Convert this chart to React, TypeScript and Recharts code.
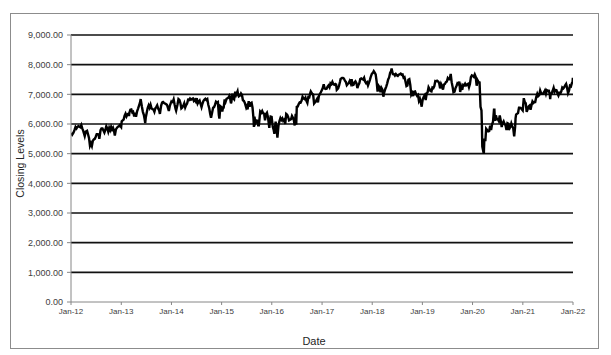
import React from "react";
import { LineChart, Line, XAxis, YAxis, CartesianGrid } from "recharts";

type P = [string, number];

const y2012: P[] = [["01-03",5700],["01-10",5640],["01-18",5700],["01-26",5790],["02-03",5900],["02-10",5850],["02-17",5900],["02-24",5930],["03-02",5910],["03-09",5890],["03-16",5965],["03-23",5850],["03-30",5770],["04-10",5595],["04-18",5745],["04-27",5770],["05-04",5655],["05-11",5530],["05-18",5270],["05-25",5350],["06-01",5260],["06-08",5435],["06-15",5480],["06-22",5500],["06-29",5570],["07-06",5660],["07-13",5660],["07-20",5650],["07-25",5500],["08-03",5790],["08-10",5850],["08-17",5850],["08-24",5780],["08-31",5710],["09-07",5800],["09-14",5920],["09-21",5850],["09-28",5740],["10-05",5870],["10-12",5790],["10-19",5900],["10-26",5810],["11-02",5870],["11-09",5770],["11-15",5610],["11-23",5820],["11-30",5870],["12-07",5910],["12-14",5920],["12-21",5960],["12-31",5898]];
const y2013: P[] = [["01-04",6090],["01-11",6120],["01-18",6150],["01-25",6280],["02-01",6350],["02-08",6260],["02-15",6330],["02-22",6350],["02-26",6270],["03-01",6380],["03-08",6480],["03-15",6490],["03-22",6390],["03-28",6410],["04-05",6250],["04-12",6380],["04-18",6240],["04-26",6430],["05-03",6520],["05-10",6620],["05-17",6720],["05-22",6840],["05-31",6580],["06-07",6410],["06-14",6310],["06-20",6160],["06-24",6030],["06-28",6215],["07-05",6380],["07-12",6540],["07-19",6630],["07-26",6550],["08-02",6650],["08-09",6530],["08-16",6500],["08-23",6490],["08-30",6410],["09-06",6530],["09-13",6580],["09-19",6630],["09-27",6510],["10-04",6450],["10-09",6340],["10-18",6620],["10-25",6720],["11-01",6740],["11-08",6710],["11-15",6690],["11-22",6670],["11-29",6650],["12-06",6550],["12-13",6440],["12-20",6610],["12-31",6750]];
const y2014: P[] = [["01-03",6730],["01-10",6740],["01-17",6830],["01-24",6660],["01-31",6510],["02-04",6450],["02-14",6660],["02-21",6840],["02-28",6810],["03-07",6710],["03-14",6530],["03-21",6560],["03-28",6620],["04-04",6700],["04-11",6560],["04-17",6630],["04-25",6690],["05-02",6820],["05-09",6810],["05-16",6860],["05-23",6820],["05-30",6845],["06-06",6860],["06-13",6780],["06-20",6820],["06-27",6760],["07-04",6870],["07-11",6690],["07-18",6750],["07-25",6790],["08-01",6680],["08-08",6570],["08-15",6690],["08-22",6780],["08-29",6820],["09-05",6850],["09-12",6810],["09-19",6840],["09-26",6650],["10-03",6530],["10-10",6340],["10-16",6210],["10-24",6390],["10-31",6550],["11-07",6570],["11-14",6650],["11-21",6750],["11-28",6720],["12-05",6740],["12-12",6300],["12-16",6180],["12-23",6600],["12-31",6570]];
const y2015: P[] = [["01-06",6420],["01-09",6500],["01-16",6550],["01-23",6830],["01-30",6750],["02-06",6850],["02-13",6870],["02-20",6890],["02-27",6950],["03-03",6890],["03-10",6700],["03-13",6740],["03-20",7020],["03-27",6860],["04-02",6830],["04-10",7090],["04-17",6990],["04-27",7104],["05-01",6990],["05-06",6930],["05-15",6960],["05-22",7030],["05-29",6980],["06-05",6800],["06-12",6780],["06-19",6710],["06-29",6550],["07-03",6590],["07-09",6490],["07-17",6770],["07-24",6580],["07-31",6700],["08-07",6720],["08-14",6550],["08-21",6190],["08-24",5900],["08-28",6250],["09-04",6040],["09-11",6120],["09-18",6110],["09-24",5960],["09-29",5960],["10-09",6420],["10-16",6380],["10-23",6440],["10-30",6360],["11-06",6350],["11-13",6120],["11-20",6330],["11-27",6380],["12-04",6240],["12-14",5870],["12-18",6050],["12-24",6250],["12-31",6240]];
const y2016: P[] = [["01-08",5910],["01-15",5800],["01-20",5670],["01-29",6080],["02-05",5850],["02-11",5540],["02-19",5950],["02-26",6100],["03-04",6200],["03-11",6140],["03-18",6190],["03-24",6110],["04-01",6150],["04-08",6000],["04-15",6340],["04-22",6310],["04-29",6240],["05-06",6120],["05-13",6140],["05-20",6160],["05-27",6270],["06-03",6210],["06-10",6120],["06-16",5950],["06-23",6340],["06-27",5980],["07-01",6580],["07-08",6590],["07-15",6670],["07-22",6730],["07-29",6720],["08-05",6790],["08-12",6920],["08-19",6860],["08-26",6840],["09-02",6890],["09-09",6780],["09-16",6710],["09-23",6910],["09-30",6900],["10-07",7040],["10-11",7100],["10-21",7020],["10-28",6990],["11-04",6690],["11-11",6730],["11-18",6780],["11-25",6840],["12-02",6730],["12-09",6950],["12-16",7010],["12-23",7070],["12-30",7140]];
const y2017: P[] = [["01-06",7210],["01-13",7340],["01-20",7200],["01-27",7180],["02-03",7190],["02-10",7260],["02-17",7300],["02-24",7240],["03-03",7370],["03-10",7340],["03-17",7420],["03-24",7340],["03-31",7320],["04-07",7350],["04-13",7330],["04-18",7150],["04-28",7200],["05-05",7300],["05-12",7430],["05-16",7520],["05-26",7550],["06-02",7550],["06-09",7530],["06-16",7460],["06-23",7420],["06-30",7310],["07-07",7350],["07-14",7380],["07-21",7450],["07-28",7370],["08-04",7510],["08-11",7310],["08-18",7320],["08-25",7400],["09-01",7440],["09-08",7380],["09-15",7210],["09-22",7310],["09-29",7370],["10-06",7520],["10-13",7540],["10-20",7520],["10-27",7500],["11-03",7560],["11-10",7430],["11-17",7380],["11-24",7410],["12-01",7300],["12-08",7390],["12-15",7490],["12-22",7600],["12-29",7690]];
const y2018: P[] = [["01-05",7720],["01-12",7780],["01-19",7730],["01-26",7670],["02-02",7440],["02-09",7090],["02-16",7290],["02-23",7240],["03-02",7070],["03-09",7220],["03-16",7160],["03-23",6920],["03-29",7060],["04-06",7180],["04-13",7260],["04-20",7370],["04-27",7500],["05-04",7570],["05-11",7720],["05-18",7780],["05-22",7870],["05-31",7680],["06-08",7680],["06-15",7630],["06-22",7680],["06-29",7640],["07-06",7620],["07-13",7660],["07-20",7680],["07-27",7700],["08-03",7660],["08-10",7670],["08-17",7560],["08-24",7580],["08-31",7430],["09-07",7280],["09-14",7300],["09-21",7490],["09-28",7510],["10-05",7320],["10-12",6990],["10-19",7050],["10-26",6940],["11-02",7090],["11-09",7100],["11-16",7010],["11-23",6950],["11-30",6980],["12-07",6780],["12-14",6850],["12-21",6720],["12-27",6585],["12-31",6730]];
const y2019: P[] = [["01-04",6840],["01-11",6920],["01-18",6970],["01-25",6810],["02-01",7020],["02-08",7070],["02-15",7240],["02-22",7180],["03-01",7110],["03-08",7100],["03-15",7230],["03-22",7210],["03-29",7280],["04-05",7450],["04-12",7440],["04-18",7460],["04-26",7430],["05-03",7380],["05-10",7200],["05-17",7350],["05-24",7280],["05-31",7160],["06-07",7330],["06-14",7350],["06-21",7410],["06-28",7430],["07-05",7550],["07-12",7510],["07-19",7510],["07-26",7690],["08-02",7410],["08-09",7250],["08-15",7070],["08-23",7090],["08-30",7210],["09-06",7280],["09-13",7370],["09-20",7340],["09-27",7430],["10-03",7080],["10-11",7250],["10-18",7150],["10-25",7320],["11-01",7300],["11-08",7360],["11-15",7300],["11-22",7330],["11-29",7350],["12-06",7240],["12-13",7350],["12-20",7580],["12-27",7640]];
const y2020: P[] = [["01-03",7620],["01-10",7590],["01-17",7670],["01-24",7590],["01-31",7290],["02-07",7470],["02-14",7410],["02-21",7400],["02-28",6580],["03-06",6460],["03-09",5970],["03-12",5240],["03-16",5150],["03-20",5190],["03-23",4990],["03-27",5510],["04-03",5420],["04-09",5840],["04-17",5790],["04-24",5750],["05-01",5760],["05-08",5940],["05-15",5800],["05-22",5990],["05-29",6080],["06-05",6480],["06-08",6480],["06-12",6110],["06-19",6290],["06-26",6160],["07-03",6160],["07-10",6100],["07-17",6290],["07-24",6120],["07-31",5900],["08-07",6030],["08-14",6090],["08-21",6000],["08-28",5960],["09-04",5800],["09-11",6030],["09-18",6010],["09-21",5800],["09-25",5840],["10-02",5900],["10-09",6020],["10-16",5920],["10-23",5860],["10-30",5580],["11-06",5910],["11-09",6190],["11-13",6320],["11-20",6350],["11-27",6370],["12-04",6550],["12-11",6550],["12-18",6530],["12-24",6500],["12-31",6460]];
const y2021: P[] = [["01-08",6870],["01-15",6740],["01-22",6700],["01-29",6410],["02-05",6490],["02-12",6590],["02-19",6620],["02-26",6480],["03-05",6630],["03-12",6760],["03-19",6710],["03-26",6740],["04-01",6740],["04-09",6920],["04-16",7020],["04-23",6940],["04-30",6970],["05-07",7130],["05-14",7040],["05-21",7020],["05-28",7020],["06-04",7070],["06-11",7130],["06-18",7020],["06-25",7140],["07-02",7120],["07-09",7120],["07-16",7010],["07-19",6840],["07-23",7030],["07-30",7030],["08-06",7120],["08-13",7220],["08-20",7090],["08-27",7150],["09-03",7140],["09-10",7030],["09-17",6960],["09-24",7050],["10-01",7030],["10-08",7100],["10-15",7230],["10-22",7200],["10-29",7240],["11-05",7300],["11-12",7350],["11-19",7220],["11-26",7040],["12-03",7120],["12-10",7290],["12-17",7270],["12-23",7370],["12-29",7420],["12-31",7560]];

const yearSeries: [number, P[]][] = [
  [2012, y2012], [2013, y2013], [2014, y2014], [2015, y2015], [2016, y2016],
  [2017, y2017], [2018, y2018], [2019, y2019], [2020, y2020], [2021, y2021],
];

const tickYears = [2012, 2013, 2014, 2015, 2016, 2017, 2018, 2019, 2020, 2021, 2022];
const tickLabels = ["Jan-12", "Jan-13", "Jan-14", "Jan-15", "Jan-16", "Jan-17", "Jan-18", "Jan-19", "Jan-20", "Jan-21", "Jan-22"];
const yTicks = [0, 1000, 2000, 3000, 4000, 5000, 6000, 7000, 8000, 9000];
const gridValues = [1000, 2000, 3000, 4000, 5000, 6000, 7000, 8000, 9000];

const toT = (y: number, md: string) => {
  const [m, d] = md.split("-").map(Number);
  return Date.UTC(y, m - 1, d);
};

const data = yearSeries.flatMap(([yr, arr]) => arr.map(([md, v]) => ({ t: toT(yr, md), close: v })));
const xTicks = tickYears.map((y) => Date.UTC(y, 0, 1));

const fmtY = (v: number) => v.toLocaleString("en-US", { minimumFractionDigits: 2, maximumFractionDigits: 2 });
const fmtX = (v: number) => tickLabels[xTicks.indexOf(v)] ?? "";

const FONT = "'Liberation Sans', Arial, sans-serif";

const YTitle = (props: any) => {
  const vb = props.viewBox || {};
  const cx = (vb.x ?? 0) + 20;
  const cy = (vb.y ?? 0) + (vb.height ?? 0) / 2 - 5;
  return (
    <text
      x={cx}
      y={cy}
      transform={`rotate(-90 ${cx} ${cy})`}
      textAnchor="middle"
      dominantBaseline="central"
      fontSize={10.5}
      fill="#262626"
      fontFamily={FONT}
    >
      Closing Levels
    </text>
  );
};

export default function App() {
  return (
    <div style={{ position: "absolute", left: 0, top: 0, width: 611, height: 355, background: "#fff" }}>
      <div
        style={{
          position: "absolute", left: 10, top: 13, width: 589, height: 336,
          boxSizing: "border-box", border: "1px solid #8c8c8c",
        }}
      />
      <div style={{ position: "absolute", left: 0, top: 0 }}>
        <LineChart width={611} height={355} data={data} margin={{ top: 35, right: 38, bottom: 0, left: 0 }}>
          <CartesianGrid vertical={false} horizontalValues={gridValues} stroke="#111" strokeWidth={1.6} />
          <XAxis
            dataKey="t"
            type="number"
            domain={[xTicks[0], xTicks[xTicks.length - 1]]}
            allowDataOverflow
            ticks={xTicks}
            tickFormatter={fmtX}
            height={53}
            interval={0}
            tickSize={3}
            tickMargin={3}
            stroke="#868686"
            tick={{ fontSize: 8, fill: "#404040", fontFamily: FONT }}
            label={{ value: "Date", position: "insideBottom", offset: 10, dx: -8, fontSize: 11, fill: "#262626", fontFamily: FONT }}
          />
          <YAxis
            type="number"
            domain={[0, 9000]}
            ticks={yTicks}
            tickFormatter={fmtY}
            width={71}
            interval={0}
            tickSize={4}
            tickMargin={4}
            stroke="#868686"
            tick={{ fontSize: 9, fill: "#404040", fontFamily: FONT }}
            label={{ content: YTitle, position: "insideLeft" }}
          />
          <Line
            type="linear"
            dataKey="close"
            stroke="#000"
            strokeWidth={2.4}
            dot={false}
            isAnimationActive={false}
          />
        </LineChart>
      </div>
    </div>
  );
}
